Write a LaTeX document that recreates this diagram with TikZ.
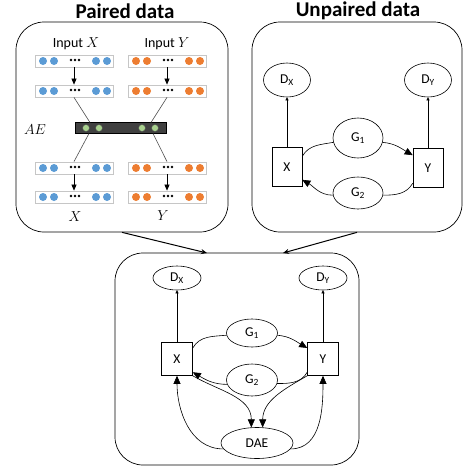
\documentclass[tikz,border=0pt]{standalone}
\usepackage{fontspec}
\setmainfont{Carlito}
\usetikzlibrary{arrows.meta,shapes.geometric}

\definecolor{dotblue}{HTML}{5B9BD5}
\definecolor{dotorange}{HTML}{ED7D31}
\definecolor{dotgreen}{HTML}{A9D18E}
\definecolor{bargray}{HTML}{404040}

% one row of dots inside a layer box
\newcommand{\dotrow}[3]{
  \foreach \dx in {-31,-20,22,33} {
    \fill[#3] (#1+\dx,#2) circle (4pt);
  }
  \foreach \dx in {-3,1,5} {
    \fill (#1+\dx,#2-1) circle (1.3pt);
  }
}

\begin{document}
\begin{tikzpicture}[x=1pt,y=-1pt,line width=0.6pt,
  panel/.style={draw, rectangle, rounded corners=28pt, line width=0.7pt},
  title/.style={font=\bfseries\fontsize{21}{22}\selectfont},
  layer/.style={draw=gray!45, rectangle, minimum width=78pt, minimum height=12pt, inner sep=0pt, line width=0.8pt},
  disc/.style={draw, ellipse, inner sep=0pt, font=\fontsize{13.5}{15}\selectfont},
  databox/.style={draw, rectangle, inner sep=0pt, font=\fontsize{13.5}{15}\selectfont},
  lbl/.style={font=\fontsize{14}{16}\selectfont},
  arrbig/.style={-{Triangle[length=8pt,width=7pt]}},
  arrsmall/.style={-{Triangle[length=3pt,width=3pt]}},
  flow/.style={-{Stealth[length=6pt,width=5pt]}, line width=1pt}
]
\useasboundingbox (0,0) rectangle (463,469);

% panels
\node[panel, minimum width=212pt, minimum height=210pt] (paired) at (122,127) {};
\node[panel, minimum width=210pt, minimum height=210pt] (unpaired) at (357,127) {};
\node[panel, minimum width=244pt, minimum height=212pt] (joint) at (237,359) {};
\node[title] at (125,11) {Paired data};
\node[title] at (358,11) {Unpaired data};

\coordinate (inl) at (207,253);
\coordinate (inr) at (283,253);
\draw[flow] (paired.south) -- (inl);
\draw[flow] (unpaired.south) -- (inr);

% Paired data
\node[lbl] at (76,44) {Input $X$};
\node[lbl] at (167,44) {Input $Y$};
\foreach \y/\a/\b in {61/xin/yin, 91/xenc/yenc, 168/xdec/ydec, 197/xout/yout} {
  \node[layer] (\a) at (74,\y) {};
  \node[layer] (\b) at (167,\y) {};
  \dotrow{74}{\y}{dotblue}
  \dotrow{167}{\y}{dotorange}
}
\draw[-{Triangle[length=6pt,width=5pt]}] (xin) -- (xenc);
\draw[-{Triangle[length=6pt,width=5pt]}] (yin) -- (yenc);
\draw[-{Triangle[length=6pt,width=5pt]}] (xdec) -- (xout);
\draw[-{Triangle[length=6pt,width=5pt]}] (ydec) -- (yout);

\node[draw, fill=bargray, minimum width=91pt, minimum height=11pt, inner sep=0pt] (ae) at (120.5,128) {};
\foreach \x [count=\i] in {86,99,142,155} {
  \node[circle, draw=black!70, fill=dotgreen, minimum size=7pt, inner sep=0pt, line width=0.5pt] (g\i) at (\x,128) {};
}
\node[lbl] (aelab) at (35,130) {$AE$};
\coordinate (aetl) at (90,122.5);
\coordinate (aetr) at (151,122.5);
\coordinate (aebl) at (89,133.5);
\coordinate (aebr) at (153,133.5);
\draw[black!70] (xenc.south) -- (aetl);
\draw[black!70] (yenc.south) -- (aetr);
\draw[black!70] (aebl) -- (xdec.north);
\draw[black!70] (aebr) -- (ydec.north);
\node[lbl] at (75,217) {$X$};
\node[lbl] at (163,216) {$Y$};

% Unpaired data
\node[disc, minimum width=47pt, minimum height=34pt] (dxu) at (287,80) {D\textsubscript{X}};
\node[disc, minimum width=47pt, minimum height=34pt] (dyu) at (428,80) {D\textsubscript{Y}};
\node[disc, minimum width=50pt, minimum height=40pt] (g1u) at (358,138) {G\textsubscript{1}};
\node[disc, minimum width=50pt, minimum height=32pt] (g2u) at (358,193) {G\textsubscript{2}};
\node[databox, minimum width=30pt, minimum height=39pt] (xu) at (287,167) {X};
\node[databox, minimum width=30pt, minimum height=39pt] (yu) at (428,168) {Y};
\draw[arrsmall] (xu) -- (dxu);
\draw[arrsmall] (yu) -- (dyu);
\draw (xu.35) to[out=60,in=190] (g1u.190);
\draw[arrbig] (g1u.-10) to[out=-5,in=150] (yu.140);
\draw[arrbig] (g2u.185) to[out=180,in=-30] (xu.-40);
\draw (g2u.-5) to[out=0,in=-120] (yu.-135);

% Joint model
\node[disc, minimum width=48pt, minimum height=24pt] (dxb) at (177,278) {D\textsubscript{X}};
\node[disc, minimum width=48pt, minimum height=24pt] (dyb) at (323,278) {D\textsubscript{Y}};
\node[disc, minimum width=51pt, minimum height=28pt] (g1b) at (252,333) {G\textsubscript{1}};
\node[disc, minimum width=51pt, minimum height=32pt] (g2b) at (252,380) {G\textsubscript{2}};
\node[disc, minimum width=72pt, minimum height=31pt] (dae) at (257,443) {DAE};
\node[databox, minimum width=31pt, minimum height=33pt] (xb) at (177,359) {X};
\node[databox, minimum width=31pt, minimum height=33pt] (yb) at (323,359) {Y};
\draw[arrsmall] (xb) -- (dxb);
\draw[arrsmall] (yb) -- (dyb);
\draw (xb.35) to[out=60,in=185] (g1b.185);
\draw[arrbig] (g1b.-5) to[out=-5,in=150] (yb.145);
\draw[arrbig] (g2b.190) to[out=180,in=-30] (xb.-40);
\draw (g2b.-8) to[out=0,in=-120] (yb.-140);
\draw[arrbig] (dae.190) to[out=180,in=-90] (xb.south);
\draw[arrbig] (xb.south east) to[out=-30,in=90] (dae.110);
\draw[arrbig] (yb.south west) to[out=-150,in=90] (dae.70);
\draw[arrbig] (dae.-10) to[out=0,in=-90] (yb.south);
\end{tikzpicture}
\end{document}
